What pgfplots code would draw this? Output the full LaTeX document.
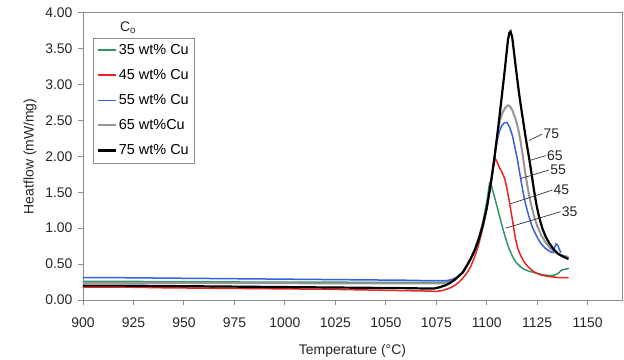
\documentclass[border=0pt]{standalone}
\usepackage{pgfplots}
\pgfplotsset{compat=1.18}
\usepackage{fontspec}
\setmainfont{Liberation Sans}
\definecolor{cgreen}{RGB}{50,150,100}
\definecolor{cred}{RGB}{232,36,36}
\definecolor{cblue}{RGB}{55,95,225}
\definecolor{cgray}{RGB}{150,150,150}
\definecolor{axgray}{RGB}{140,140,140}
\begin{document}
\begin{tikzpicture}
\useasboundingbox (-83bp,-60bp) rectangle (541bp,300bp);
\begin{axis}[
  at={(0,0)}, anchor=south west,
  width=539bp, height=287.3bp, scale only axis,
  xmin=900, xmax=1167, ymin=0, ymax=4,
  xtick={900,925,...,1150}, ytick={0,0.5,...,4},
  scaled ticks=false,
  /pgf/number format/assume math mode=true,
  xticklabel style={/pgf/number format/.cd, fixed, set thousands separator={}, /tikz/.cd, yshift=-9bp},
  yticklabel style={/pgf/number format/.cd, fixed, fixed zerofill, precision=2, /tikz/.cd, xshift=-2bp},
  tick label style={font=\fontsize{14}{16}\selectfont, text=black!85},
  label style={font=\fontsize{14}{16}\selectfont, text=black!85},
  axis line style={axgray, line width=0.9bp},
  tick style={axgray, line width=0.9bp},
  major tick length=5bp, tick align=outside, tick pos=left,
  xlabel={Temperature (°C)}, ylabel={Heatflow (mW/mg)},
  xlabel style={at={(axis description cs:0.5,0)}, anchor=center, yshift=-51bp},
  ylabel style={at={(axis description cs:0,0.5)}, anchor=center, yshift=53bp},
  legend style={at={(0.0186,0.913)}, anchor=north west, draw=axgray, fill=white,
    font=\fontsize{14.5}{16}\selectfont, row sep=9.5bp, inner xsep=3.5bp, inner ysep=4.5bp},
  legend cell align=left,
  legend image code/.code={\draw[#1] (0bp,0bp) -- (18bp,0bp);},
]
% 35 wt% Cu
\addplot[cgreen, line width=1.5bp] coordinates {
(900,0.26)(920,0.26)(940,0.255)(960,0.255)(980,0.25)(1000,0.25)(1020,0.25)(1040,0.245)(1060,0.245)(1070,0.245)(1076,0.245)(1080,0.25)(1082,0.26)(1084,0.28)(1086,0.33)(1088,0.39)(1090,0.48)(1092,0.58)(1094,0.71)(1096,0.87)(1098,1.08)(1100,1.36)(1101.4,1.63)(1102.2,1.60)(1103,1.52)(1104,1.42)(1105.2,1.29)(1106.4,1.16)(1107.7,1.02)(1108.9,0.90)(1110,0.80)(1111,0.72)(1112.7,0.61)(1114.3,0.53)(1116.8,0.46)(1118.4,0.43)(1121,0.40)(1125,0.37)(1128,0.35)(1131.6,0.34)(1134,0.35)(1135.3,0.37)(1136.5,0.40)(1137.4,0.42)(1139,0.43)(1140.7,0.44)};
\addlegendentry{35 wt\% Cu}
% 45 wt% Cu
\addplot[cred, line width=1.5bp] coordinates {
(900,0.18)(920,0.18)(940,0.17)(960,0.165)(980,0.16)(1000,0.155)(1020,0.15)(1040,0.14)(1060,0.13)(1070,0.125)(1075,0.12)(1078,0.13)(1080,0.15)(1082,0.17)(1084,0.20)(1086,0.24)(1088,0.30)(1090,0.37)(1092,0.46)(1094,0.60)(1096,0.77)(1098,1.00)(1100,1.27)(1102,1.60)(1103.4,1.87)(1104.2,1.97)(1105.2,1.92)(1106.3,1.84)(1107.2,1.80)(1108.9,1.69)(1110,1.55)(1111,1.40)(1112.7,1.12)(1114.3,0.84)(1115.5,0.71)(1116.8,0.62)(1118.5,0.53)(1120.5,0.46)(1123.5,0.39)(1126.7,0.35)(1130,0.33)(1133,0.32)(1136,0.31)(1140.5,0.31)};
\addlegendentry{45 wt\% Cu}
% 55 wt% Cu
\addplot[cblue, line width=1.5bp] coordinates {
(900,0.31)(920,0.31)(940,0.305)(960,0.30)(980,0.295)(1000,0.29)(1020,0.285)(1040,0.28)(1060,0.275)(1070,0.27)(1075,0.27)(1080,0.27)(1082,0.28)(1084,0.30)(1086,0.33)(1088,0.38)(1090,0.47)(1092,0.57)(1094,0.69)(1096,0.84)(1098,1.03)(1100,1.28)(1102,1.62)(1104,2.02)(1105.2,2.22)(1106.3,2.35)(1107.5,2.43)(1108.8,2.47)(1110,2.47)(1111.3,2.41)(1112.7,2.29)(1114,2.12)(1115.1,1.97)(1116.8,1.69)(1118,1.50)(1119.2,1.34)(1120.8,1.17)(1122.5,1.02)(1124.5,0.90)(1126.7,0.79)(1129,0.72)(1131.6,0.67)(1132.8,0.66)(1133.5,0.72)(1134.3,0.78)(1135.2,0.76)(1136,0.70)(1136.7,0.66)};
\addlegendentry{55 wt\% Cu}
% 65 wt% Cu
\addplot[cgray, line width=2bp] coordinates {
(900,0.24)(920,0.24)(940,0.24)(960,0.235)(980,0.235)(1000,0.235)(1020,0.23)(1040,0.23)(1060,0.23)(1070,0.23)(1077,0.23)(1080,0.24)(1082,0.25)(1084,0.28)(1086,0.33)(1088,0.38)(1090,0.47)(1092,0.57)(1094,0.69)(1096,0.84)(1098,1.03)(1100,1.28)(1102,1.62)(1104,2.02)(1105.3,2.30)(1106.5,2.50)(1107.7,2.60)(1109,2.67)(1110.5,2.71)(1111.5,2.70)(1112.7,2.64)(1114.3,2.52)(1115.6,2.38)(1116.8,2.20)(1118,1.98)(1118.9,1.80)(1120.3,1.56)(1121.7,1.36)(1123.3,1.18)(1125,1.03)(1127,0.90)(1129.2,0.80)(1131.5,0.72)(1134.1,0.66)(1137,0.62)(1140.5,0.60)};
\addlegendentry{65 wt\%Cu}
% 75 wt% Cu
\addplot[black, line width=2.2bp] coordinates {
(900,0.20)(920,0.20)(940,0.195)(960,0.19)(980,0.185)(1000,0.18)(1020,0.175)(1040,0.17)(1060,0.165)(1070,0.16)(1074,0.16)(1077,0.18)(1080,0.21)(1082,0.24)(1084,0.28)(1086,0.33)(1088,0.38)(1090,0.47)(1092,0.57)(1094,0.69)(1096,0.84)(1098,1.03)(1100,1.28)(1102,1.62)(1104,2.02)(1106,2.48)(1107.8,2.92)(1109,3.22)(1110.5,3.62)(1111.2,3.72)(1111.8,3.74)(1112.6,3.66)(1113.5,3.45)(1114.6,3.19)(1115.8,2.92)(1116.9,2.70)(1118,2.50)(1119.4,2.24)(1120.9,1.99)(1122.2,1.76)(1123.4,1.53)(1124.6,1.33)(1125.8,1.17)(1127.5,1.00)(1129.2,0.88)(1131,0.79)(1133.3,0.70)(1135.5,0.64)(1137.5,0.61)(1140.5,0.57)};
\addlegendentry{75 wt\% Cu}
% leader lines and labels
\draw[black!80, line width=0.7bp] (axis cs:1120.9,2.22) -- (axis cs:1127.5,2.31) node[anchor=west, inner sep=1bp, font=\fontsize{14}{16}\selectfont, text=black!85] {75};
\draw[black!80, line width=0.7bp] (axis cs:1120.9,1.94) -- (axis cs:1129.2,2.01) node[anchor=west, inner sep=1bp, font=\fontsize{14}{16}\selectfont, text=black!85] {65};
\draw[black!80, line width=0.7bp] (axis cs:1116.8,1.69) -- (axis cs:1130.8,1.81) node[anchor=west, inner sep=1bp, font=\fontsize{14}{16}\selectfont, text=black!85] {55};
\draw[black!80, line width=0.7bp] (axis cs:1111.8,1.34) -- (axis cs:1132.5,1.53) node[anchor=west, inner sep=1bp, font=\fontsize{14}{16}\selectfont, text=black!85] {45};
\draw[black!80, line width=0.7bp] (axis cs:1109.3,1.00) -- (axis cs:1136.6,1.23) node[anchor=west, inner sep=1bp, font=\fontsize{14}{16}\selectfont, text=black!85] {35};
\node[font=\fontsize{14}{16}\selectfont, text=black!85] at (axis cs:922.3,3.79) {C\textsubscript{o}};
\end{axis}
\end{tikzpicture}
\end{document}
